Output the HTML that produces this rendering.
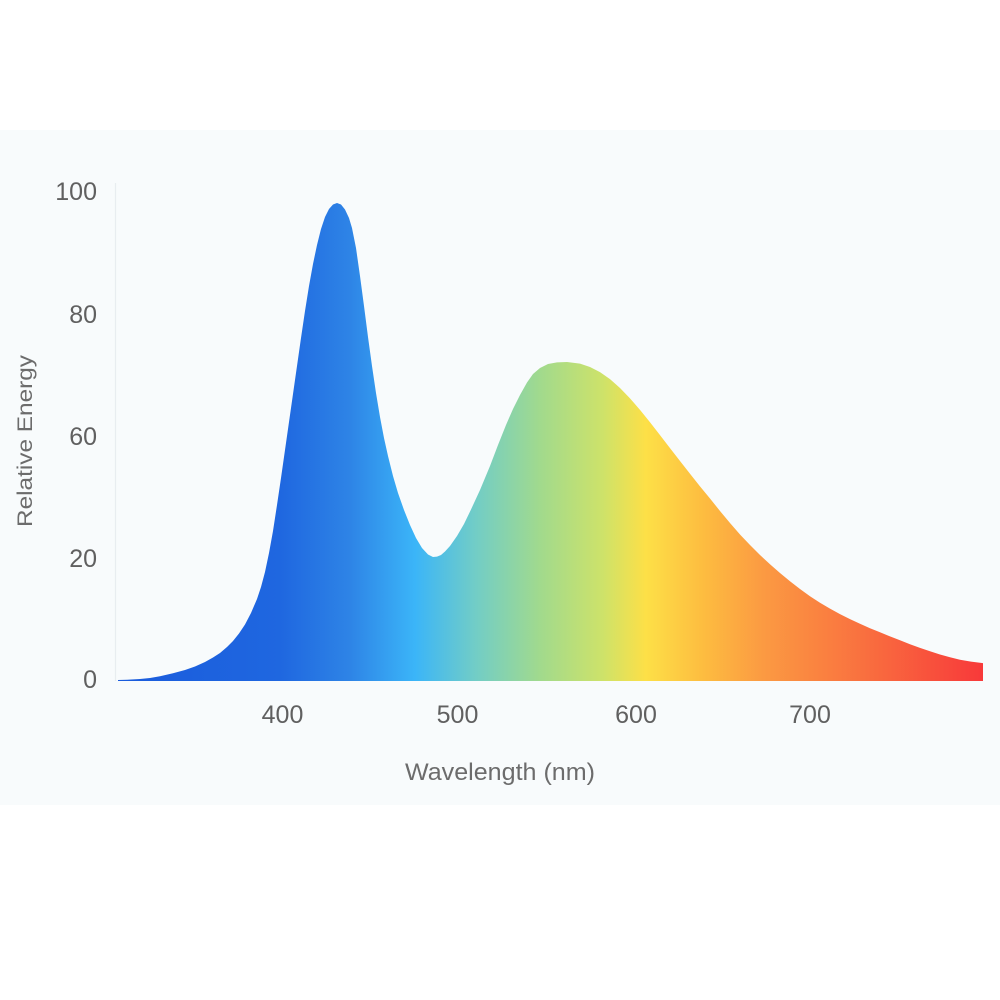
<!DOCTYPE html>
<html>
<head>
<meta charset="utf-8">
<style>
  html,body{margin:0;padding:0;background:#ffffff;}
  svg{display:block;}
  text{font-family:"Liberation Sans",Arial,sans-serif;}
</style>
</head>
<body>
<svg width="1000" height="1000" viewBox="0 0 1000 1000" xmlns="http://www.w3.org/2000/svg">
  <defs>
    <linearGradient id="spec" gradientUnits="userSpaceOnUse" x1="115" y1="0" x2="985" y2="0">
      <stop offset="0" stop-color="#1a5bdc"/>
      <stop offset="0.19" stop-color="#1f67e0"/>
      <stop offset="0.27" stop-color="#2e84e6"/>
      <stop offset="0.345" stop-color="#3bb5f8"/>
      <stop offset="0.415" stop-color="#72cdc6"/>
      <stop offset="0.49" stop-color="#a2da8c"/>
      <stop offset="0.56" stop-color="#cde26a"/>
      <stop offset="0.61" stop-color="#fde047"/>
      <stop offset="0.675" stop-color="#fdbd40"/>
      <stop offset="0.745" stop-color="#fb9a42"/>
      <stop offset="0.86" stop-color="#f9703f"/>
      <stop offset="1" stop-color="#f8383a"/>
    </linearGradient>
  </defs>

  <!-- panel -->
  <rect x="0" y="130" width="1000" height="675" fill="#f8fbfc"/>

  <!-- y axis line -->
  <line x1="115.5" y1="183" x2="115.5" y2="681" stroke="#e8edf0" stroke-width="1.2"/>

  <!-- area -->
  <polygon fill="url(#spec)" points="
    118,681 118,680 127,679.8 140,679 150,678 160,676.3 173,673.3 185,670 195,666.5 205,662 213,657.5 220,653 227,647 233,641 239,633.5 245,624.5 251,613 257,599 261,587 265,572 269,553 273,531 277,505 281,478 285,450 289,422 293,394 297,366 301,338 305,311 309,286 313,264 317,245 321,229 325,217 329,209 333,204.5 337,203
    341,204.5 345,209.5 349,218 352,228 356,248 360,276 364,306 368,337 372,366 376,393 380,417 384,438 388,456 393,476 398,493 404,510 410,525 416,538 422,548 428,554.5 433,557
    437,556.6 441,555 445,551.5 450,546 457,536 464,524 471,509.5 480,490 490,466 498,445 506,425 513,409 520,395 527,382.5 533,374 540,368 548,364 557,362.4 567,362
    580,363.6 590,367 600,372.1 610,379.1 620,388 630,398.4 640,409.9 650,422.2 660,435.1 670,448.1 680,461 690,473.8 700,486.4
    710,498.5 720,511 730,523 740,534.5 750,545 760,555 770,564.3 780,573 790,581.2 800,589 810,596.2 820,602.7 830,608.6 840,614.1 850,619.1 860,623.8 870,628.2 880,632.3 890,636.4 900,640.3 910,644.2 920,647.9 930,651.3 940,654.5 950,657.2 960,659.7 971,661.6 983,663.1 983,681"/>

  <!-- y tick labels -->
  <g font-size="25" fill="#606060" text-anchor="end">
    <text x="97" y="200">100</text>
    <text x="97" y="323">80</text>
    <text x="97" y="445">60</text>
    <text x="97" y="567">20</text>
    <text x="97" y="688">0</text>
  </g>

  <!-- x tick labels -->
  <g font-size="25" fill="#606060" text-anchor="middle">
    <text x="282.5" y="723">400</text>
    <text x="457.5" y="723">500</text>
    <text x="636" y="723">600</text>
    <text x="810" y="723">700</text>
  </g>

  <!-- axis titles -->
  <text x="405" y="780" font-size="24" fill="#6c6c6c" textLength="190" lengthAdjust="spacingAndGlyphs">Wavelength (nm)</text>
  <text transform="translate(32,527) rotate(-90)" x="0" y="0" font-size="21" fill="#6c6c6c" textLength="172" lengthAdjust="spacingAndGlyphs">Relative Energy</text>
</svg>
</body>
</html>
